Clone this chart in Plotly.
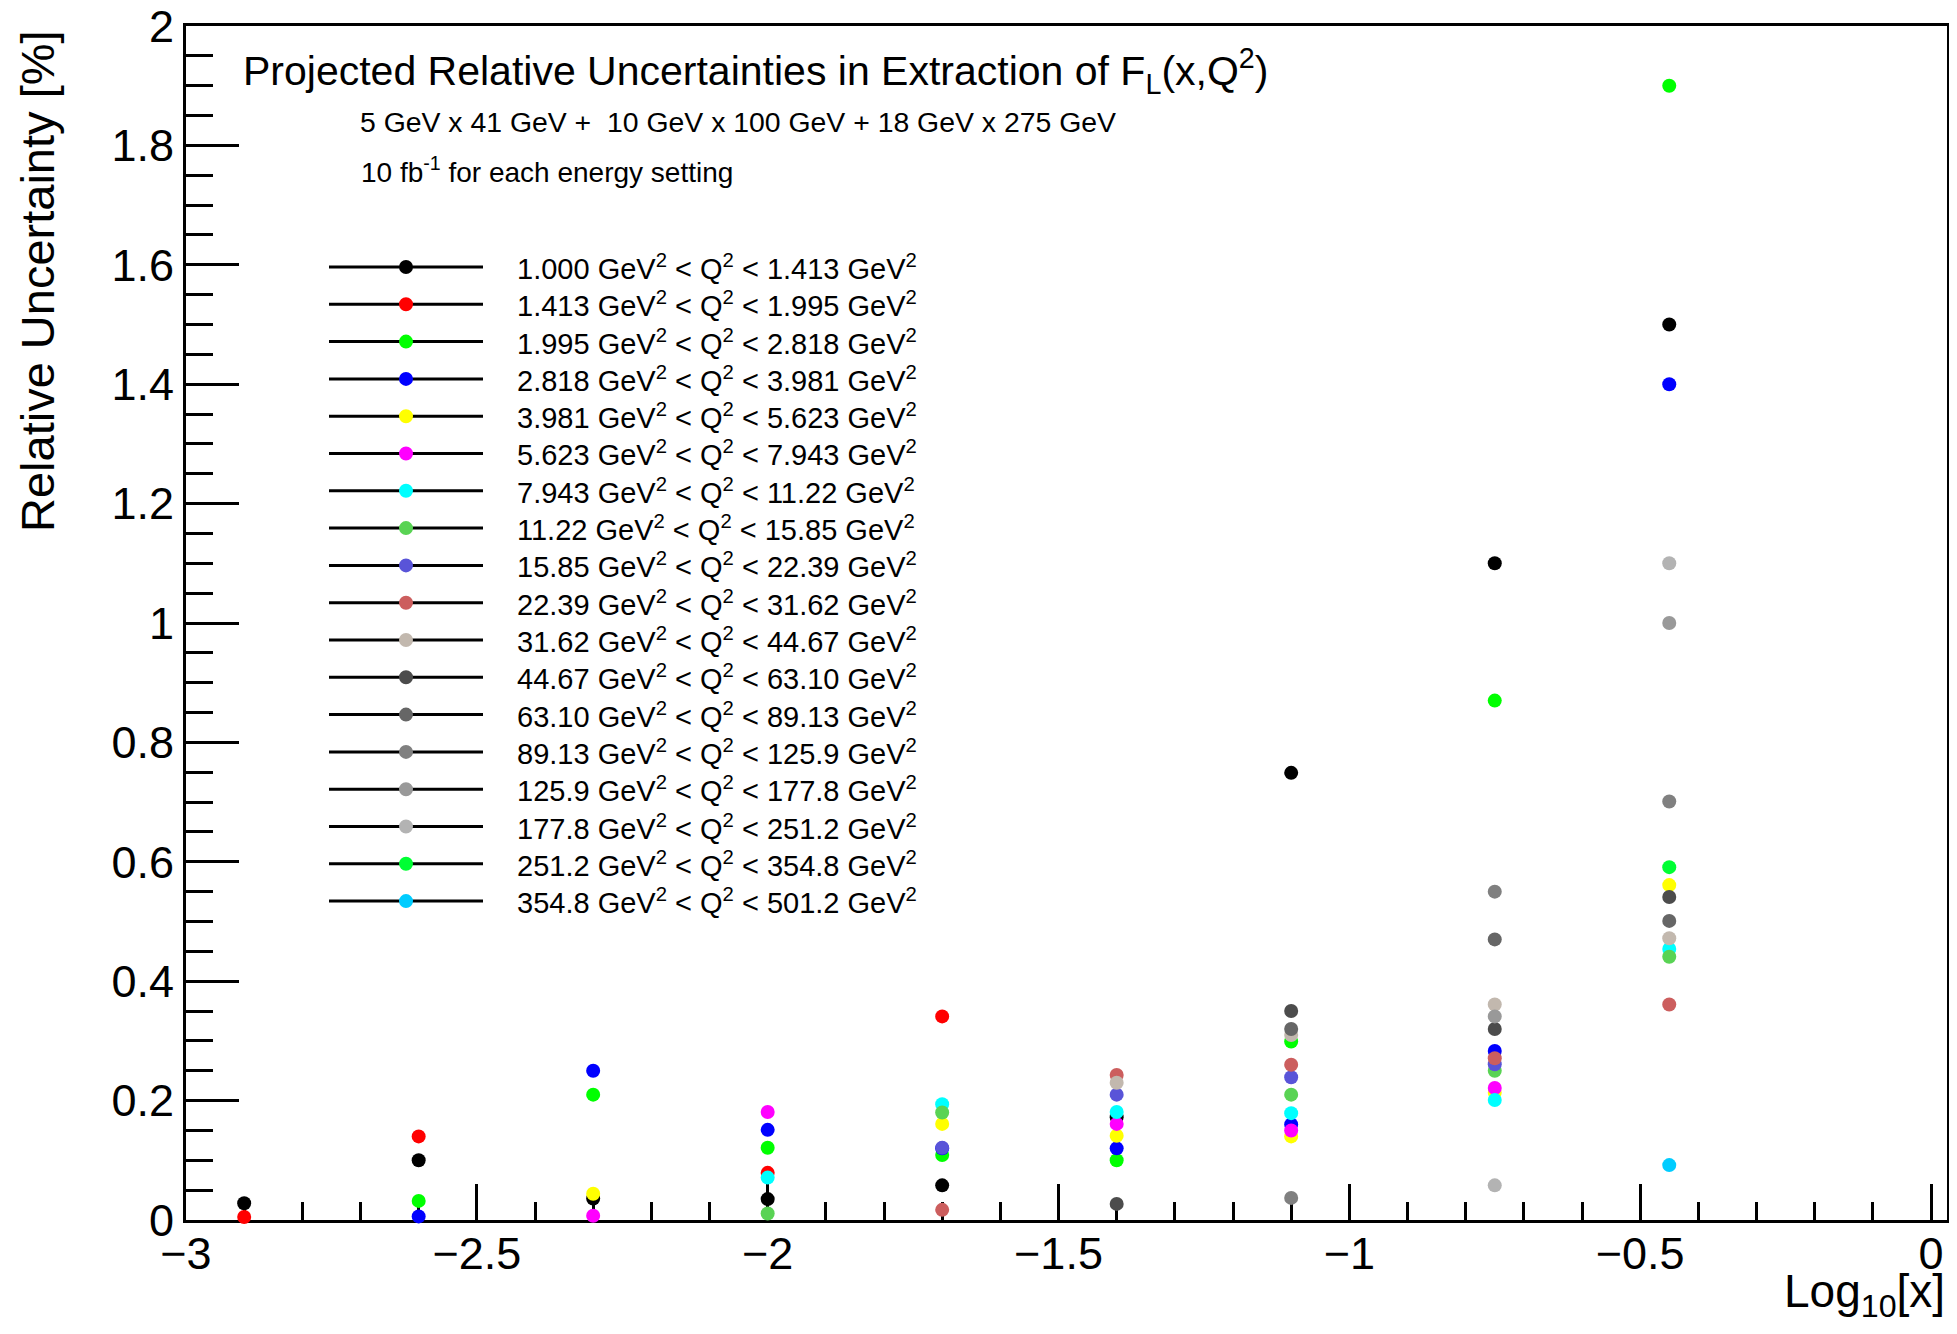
import plotly.graph_objects as go

# ---------------- data ----------------
log10_x = [-2.9, -2.6, -2.3, -2.0, -1.7, -1.4, -1.1, -0.75, -0.45]

q2_bin_labels = [
    "1.000 GeV<sup>2</sup> &lt; Q<sup>2</sup> &lt; 1.413 GeV<sup>2</sup>",
    "1.413 GeV<sup>2</sup> &lt; Q<sup>2</sup> &lt; 1.995 GeV<sup>2</sup>",
    "1.995 GeV<sup>2</sup> &lt; Q<sup>2</sup> &lt; 2.818 GeV<sup>2</sup>",
    "2.818 GeV<sup>2</sup> &lt; Q<sup>2</sup> &lt; 3.981 GeV<sup>2</sup>",
    "3.981 GeV<sup>2</sup> &lt; Q<sup>2</sup> &lt; 5.623 GeV<sup>2</sup>",
    "5.623 GeV<sup>2</sup> &lt; Q<sup>2</sup> &lt; 7.943 GeV<sup>2</sup>",
    "7.943 GeV<sup>2</sup> &lt; Q<sup>2</sup> &lt; 11.22 GeV<sup>2</sup>",
    "11.22 GeV<sup>2</sup> &lt; Q<sup>2</sup> &lt; 15.85 GeV<sup>2</sup>",
    "15.85 GeV<sup>2</sup> &lt; Q<sup>2</sup> &lt; 22.39 GeV<sup>2</sup>",
    "22.39 GeV<sup>2</sup> &lt; Q<sup>2</sup> &lt; 31.62 GeV<sup>2</sup>",
    "31.62 GeV<sup>2</sup> &lt; Q<sup>2</sup> &lt; 44.67 GeV<sup>2</sup>",
    "44.67 GeV<sup>2</sup> &lt; Q<sup>2</sup> &lt; 63.10 GeV<sup>2</sup>",
    "63.10 GeV<sup>2</sup> &lt; Q<sup>2</sup> &lt; 89.13 GeV<sup>2</sup>",
    "89.13 GeV<sup>2</sup> &lt; Q<sup>2</sup> &lt; 125.9 GeV<sup>2</sup>",
    "125.9 GeV<sup>2</sup> &lt; Q<sup>2</sup> &lt; 177.8 GeV<sup>2</sup>",
    "177.8 GeV<sup>2</sup> &lt; Q<sup>2</sup> &lt; 251.2 GeV<sup>2</sup>",
    "251.2 GeV<sup>2</sup> &lt; Q<sup>2</sup> &lt; 354.8 GeV<sup>2</sup>",
    "354.8 GeV<sup>2</sup> &lt; Q<sup>2</sup> &lt; 501.2 GeV<sup>2</sup>",
]

series_colors = [
    "#000000", "#ff0000", "#00ff00", "#0000ff", "#ffff00", "#ff00ff",
    "#00ffff", "#59d354", "#5954d8", "#cc5e5e", "#c2b8ae", "#4c4c4c",
    "#666666", "#808080", "#999999", "#b3b3b3", "#00ff33", "#00ccff",
]

unc_q2_01 = [0.028, 0.100, 0.036, 0.035, 0.058, 0.172, 0.749, 1.100, 1.500]
unc_q2_02 = [0.005, 0.140, None, 0.079, 0.341, None, None, None, None]
unc_q2_03 = [None, 0.032, 0.210, 0.121, 0.109, 0.100, 0.299, 0.870, 1.900]
unc_q2_04 = [None, 0.006, 0.250, 0.151, 0.120, 0.120, 0.160, 0.283, 1.400]
unc_q2_05 = [None, None, 0.044, None, 0.161, 0.141, 0.140, 0.213, 0.561]
unc_q2_06 = [None, None, 0.007, 0.181, None, 0.161, 0.150, 0.221, None]
unc_q2_07 = [None, None, None, 0.071, 0.194, 0.181, 0.179, 0.201, 0.454]
unc_q2_08 = [None, None, None, 0.011, 0.180, None, 0.210, 0.250, 0.441]
unc_q2_09 = [None, None, None, None, 0.121, 0.210, 0.239, 0.261, None]
unc_q2_10 = [None, None, None, None, 0.017, 0.243, 0.260, 0.271, 0.361]
unc_q2_11 = [None, None, None, None, None, 0.230, 0.310, 0.361, 0.472]
unc_q2_12 = [None, None, None, None, None, 0.027, 0.350, 0.320, 0.541]
unc_q2_13 = [None, None, None, None, None, None, 0.320, 0.470, 0.501]
unc_q2_14 = [None, None, None, None, None, None, 0.037, 0.550, 0.701]
unc_q2_15 = [None, None, None, None, None, None, None, 0.341, 1.000]
unc_q2_16 = [None, None, None, None, None, None, None, 0.058, 1.100]
unc_q2_17 = [None, None, None, None, None, None, None, None, 0.591]
unc_q2_18 = [None, None, None, None, None, None, None, None, 0.092]

all_series = [unc_q2_01, unc_q2_02, unc_q2_03, unc_q2_04, unc_q2_05, unc_q2_06,
              unc_q2_07, unc_q2_08, unc_q2_09, unc_q2_10, unc_q2_11, unc_q2_12,
              unc_q2_13, unc_q2_14, unc_q2_15, unc_q2_16, unc_q2_17, unc_q2_18]

# ---------------- layout constants ----------------
# page body has an 8 px margin, so figure pixel = page pixel - 8
OFF = 8
W, H = 1957 - 2 * OFF, 1334 - 2 * OFF
FRAME_L, FRAME_R, FRAME_T, FRAME_B = 186, 1947, 26, 1220   # page pixels
L = FRAME_L - OFF
T = FRAME_T - OFF
R = W - (FRAME_R - OFF)
B = H - (FRAME_B - OFF)
PW, PH = W - L - R, H - T - B
FONT = "Liberation Sans, Arial, Helvetica, sans-serif"
MARK = 14


def px_x(px):  # page pixel -> paper fraction
    return (px - OFF - L) / PW


def px_y(py):
    return (H - B - (py - OFF)) / PH


fig = go.Figure()
for vals, col, lab in zip(all_series, series_colors, q2_bin_labels):
    xs = [x for x, v in zip(log10_x, vals) if v is not None]
    ys = [v for v in vals if v is not None]
    fig.add_trace(go.Scatter(
        x=xs, y=ys, mode="markers", name=lab, showlegend=False,
        cliponaxis=False,
        marker=dict(color=col, size=MARK, line=dict(width=0)),
    ))

shapes = []
annotations = []

# manual ROOT-style legend
leg_top, leg_step = 267, 37.3
for i, (col, lab) in enumerate(zip(series_colors, q2_bin_labels)):
    py = leg_top + i * leg_step
    shapes.append(dict(type="line", xref="paper", yref="paper",
                       x0=px_x(329), x1=px_x(483), y0=px_y(py), y1=px_y(py),
                       line=dict(color="black", width=3)))
    shapes.append(dict(type="circle", xref="paper", yref="paper",
                       xsizemode="pixel", ysizemode="pixel",
                       xanchor=px_x(406), yanchor=px_y(py),
                       x0=-MARK / 2, x1=MARK / 2, y0=-MARK / 2, y1=MARK / 2,
                       fillcolor=col, line=dict(width=0)))
    annotations.append(dict(xref="paper", yref="paper", x=px_x(515), y=px_y(py),
                            xanchor="left", yanchor="middle", showarrow=False,
                            text=lab, font=dict(family=FONT, size=29, color="black")))

# title texts
annotations.append(dict(xref="paper", yref="paper", x=px_x(241), y=px_y(71),
                        xanchor="left", yanchor="middle", showarrow=False,
                        text="Projected Relative Uncertainties in Extraction of F<sub>L</sub>(x,Q<sup>2</sup>)",
                        font=dict(family=FONT, size=41, color="black")))
annotations.append(dict(xref="paper", yref="paper", x=px_x(358), y=px_y(122),
                        xanchor="left", yanchor="middle", showarrow=False,
                        text="5 GeV x 41 GeV +  10 GeV x 100 GeV + 18 GeV x 275 GeV",
                        font=dict(family=FONT, size=28.4, color="black")))
annotations.append(dict(xref="paper", yref="paper", x=px_x(359), y=px_y(170),
                        xanchor="left", yanchor="middle", showarrow=False,
                        text="10 fb<sup>-1</sup> for each energy setting",
                        font=dict(family=FONT, size=28, color="black")))

# axis titles
annotations.append(dict(xref="paper", yref="paper", x=1, y=0, xanchor="right",
                        yanchor="middle", yshift=-(1294 - FRAME_B), showarrow=False,
                        text="Log<sub>10</sub>[x]",
                        font=dict(family=FONT, size=46, color="black")))
annotations.append(dict(xref="paper", yref="paper", x=0, y=1, xanchor="center",
                        yanchor="top", xshift=37 - FRAME_L, yshift=-2, textangle=-90,
                        showarrow=False, text="Relative Uncertainty [%]",
                        font=dict(family=FONT, size=47, color="black")))

fig.update_layout(
    width=W, height=H,
    margin=dict(l=L, r=R, t=T, b=B, pad=0, autoexpand=False),
    paper_bgcolor="white", plot_bgcolor="white",
    showlegend=False,
    shapes=shapes, annotations=annotations,
    xaxis=dict(range=[-3, 0.0275], showgrid=False, zeroline=False,
               automargin=False,
               showline=True, linecolor="black", linewidth=3, mirror=True,
               ticks="inside", ticklen=36, tickwidth=3, tickcolor="black",
               tick0=-3, dtick=0.5, layer="below traces",
               ticklabeloverflow="allow", ticklabelstandoff=-8,
               tickfont=dict(family=FONT, size=45, color="black"),
               minor=dict(ticks="inside", ticklen=18, tickwidth=3,
                          tickcolor="black", dtick=0.1, showgrid=False)),
    yaxis=dict(range=[0, 2], showgrid=False, zeroline=False,
               automargin=False,
               showline=True, linecolor="black", linewidth=3, mirror=True,
               ticks="inside", ticklen=53, tickwidth=3, tickcolor="black",
               tick0=0, dtick=0.2, layer="below traces",
               ticklabeloverflow="allow",
               tickfont=dict(family=FONT, size=45, color="black"),
               minor=dict(ticks="inside", ticklen=27, tickwidth=3,
                          tickcolor="black", dtick=0.05, showgrid=False)),
)

fig.write_html("out.html")
